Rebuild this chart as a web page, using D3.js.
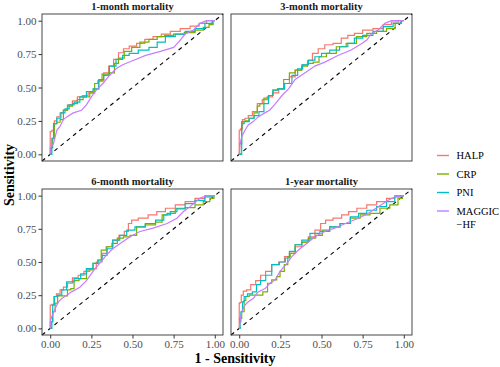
<!DOCTYPE html>
<html><head><meta charset="utf-8">
<script src="https://cdn.jsdelivr.net/npm/d3@7"></script>
<style>body{margin:0;background:#fff}svg{display:block}</style>
</head><body><svg id="c" width="500" height="367"></svg>
<script>
const panelTitles = ["1-month mortality","3-month mortality","6-month mortality","1-year mortality"];
const seriesNames = ["HALP","CRP","PNI","MAGGIC-HF"];
const seriesColors = ["#F8766D","#7CAE00","#00BFC4","#C77CFF"];
const tickValues = [0,0.25,0.5,0.75,1];

// [1 - specificity, sensitivity] pairs
const m1_HALP = [[0,0],[0,0.17],[0.02,0.18],[0.03,0.25],[0.05,0.28],[0.07,0.31],[0.09,0.33],[0.12,0.37],[0.15,0.40],[0.18,0.43],[0.21,0.44],[0.25,0.46],[0.28,0.49],[0.31,0.55],[0.34,0.61],[0.37,0.66],[0.40,0.71],[0.43,0.76],[0.46,0.79],[0.50,0.81],[0.55,0.83],[0.60,0.86],[0.65,0.88],[0.70,0.90],[0.76,0.92],[0.82,0.94],[0.88,0.96],[0.93,0.98],[0.97,1],[1,1]];
const m1_CRP = [[0,0],[0.01,0.05],[0.02,0.12],[0.03,0.23],[0.05,0.24],[0.07,0.26],[0.09,0.33],[0.12,0.36],[0.15,0.38],[0.18,0.41],[0.22,0.43],[0.26,0.46],[0.28,0.53],[0.30,0.55],[0.33,0.60],[0.38,0.61],[0.40,0.68],[0.43,0.72],[0.47,0.77],[0.52,0.80],[0.57,0.84],[0.63,0.86],[0.67,0.88],[0.72,0.89],[0.78,0.90],[0.85,0.91],[0.91,0.93],[0.95,0.95],[0.98,0.97],[1,1]];
const m1_PNI = [[0,0],[0.01,0],[0.01,0.12],[0.03,0.23],[0.05,0.27],[0.08,0.31],[0.10,0.34],[0.13,0.37],[0.16,0.39],[0.20,0.43],[0.24,0.47],[0.28,0.49],[0.31,0.56],[0.34,0.59],[0.38,0.66],[0.42,0.71],[0.46,0.74],[0.50,0.755],[0.57,0.78],[0.63,0.80],[0.67,0.84],[0.73,0.88],[0.79,0.90],[0.85,0.92],[0.91,0.94],[0.97,0.98],[1,1]];
const m1_MAGGIC = [[0,0],[0,0.05],[0.02,0.08],[0.03,0.13],[0.04,0.18],[0.06,0.21],[0.08,0.26],[0.10,0.28],[0.14,0.31],[0.19,0.33],[0.22,0.37],[0.25,0.43],[0.28,0.48],[0.32,0.53],[0.36,0.59],[0.40,0.64],[0.44,0.67],[0.50,0.70],[0.58,0.74],[0.67,0.77],[0.75,0.80],[0.78,0.84],[0.82,0.90],[0.87,0.93],[0.91,0.98],[0.95,1],[1,1]];

const m3_HALP = [[0,0],[0,0.18],[0.015,0.19],[0.025,0.26],[0.045,0.27],[0.065,0.29],[0.095,0.32],[0.125,0.38],[0.155,0.41],[0.185,0.43],[0.22,0.46],[0.26,0.49],[0.29,0.53],[0.32,0.58],[0.36,0.63],[0.40,0.67],[0.43,0.70],[0.46,0.755],[0.50,0.79],[0.54,0.82],[0.60,0.83],[0.64,0.87],[0.68,0.89],[0.72,0.905],[0.78,0.93],[0.845,0.94],[0.905,0.97],[0.945,0.99],[0.99,1],[1,1]];
const m3_CRP = [[0,0],[0.005,0.08],[0.025,0.245],[0.045,0.25],[0.075,0.27],[0.105,0.31],[0.115,0.36],[0.135,0.38],[0.165,0.42],[0.195,0.44],[0.215,0.48],[0.25,0.49],[0.29,0.56],[0.32,0.61],[0.36,0.63],[0.40,0.66],[0.43,0.68],[0.47,0.69],[0.50,0.73],[0.56,0.755],[0.62,0.805],[0.68,0.83],[0.745,0.88],[0.805,0.905],[0.865,0.92],[0.925,0.94],[0.97,0.98],[1,1]];
const m3_PNI = [[0,0],[0.015,0],[0.015,0.23],[0.045,0.245],[0.075,0.27],[0.105,0.29],[0.135,0.32],[0.165,0.38],[0.19,0.44],[0.22,0.48],[0.25,0.49],[0.30,0.53],[0.34,0.59],[0.37,0.64],[0.40,0.67],[0.44,0.705],[0.48,0.73],[0.52,0.755],[0.58,0.78],[0.64,0.805],[0.68,0.83],[0.72,0.87],[0.78,0.89],[0.845,0.92],[0.905,0.955],[0.965,0.98],[1,1]];
const m3_MAGGIC = [[0,0],[0.005,0.08],[0.015,0.13],[0.035,0.18],[0.055,0.22],[0.085,0.245],[0.115,0.28],[0.155,0.31],[0.185,0.33],[0.22,0.38],[0.26,0.44],[0.30,0.49],[0.34,0.56],[0.40,0.61],[0.46,0.66],[0.52,0.69],[0.60,0.74],[0.68,0.78],[0.745,0.83],[0.775,0.855],[0.805,0.905],[0.845,0.93],[0.885,0.98],[0.925,1],[1,1]];

const m6_HALP = [[0,0],[0,0.175],[0.02,0.18],[0.025,0.24],[0.05,0.26],[0.07,0.29],[0.09,0.31],[0.12,0.34],[0.15,0.38],[0.19,0.40],[0.22,0.43],[0.26,0.45],[0.30,0.50],[0.33,0.565],[0.36,0.615],[0.40,0.665],[0.435,0.70],[0.465,0.73],[0.485,0.79],[0.505,0.815],[0.565,0.83],[0.625,0.855],[0.67,0.88],[0.73,0.905],[0.79,0.93],[0.85,0.955],[0.91,0.98],[0.97,1],[1,1]];
const m6_CRP = [[0,0],[0.01,0.05],[0.02,0.125],[0.04,0.19],[0.05,0.245],[0.10,0.245],[0.11,0.29],[0.14,0.30],[0.15,0.36],[0.20,0.375],[0.24,0.44],[0.28,0.49],[0.30,0.515],[0.32,0.59],[0.36,0.615],[0.39,0.64],[0.425,0.68],[0.465,0.69],[0.505,0.70],[0.545,0.765],[0.61,0.78],[0.67,0.80],[0.69,0.855],[0.73,0.867],[0.79,0.90],[0.85,0.91],[0.91,0.93],[0.95,0.955],[0.99,0.98],[1,1]];
const m6_PNI = [[0,0],[0.01,0],[0.01,0.05],[0.02,0.175],[0.03,0.24],[0.06,0.25],[0.08,0.29],[0.12,0.35],[0.17,0.375],[0.20,0.41],[0.24,0.45],[0.28,0.49],[0.30,0.515],[0.33,0.55],[0.36,0.60],[0.40,0.665],[0.445,0.70],[0.485,0.74],[0.545,0.765],[0.61,0.79],[0.67,0.815],[0.71,0.855],[0.75,0.88],[0.79,0.905],[0.85,0.94],[0.91,0.965],[0.97,0.99],[1,1]];
const m6_MAGGIC = [[0,0],[0,0.05],[0.01,0.09],[0.03,0.15],[0.05,0.20],[0.07,0.225],[0.10,0.25],[0.13,0.275],[0.18,0.31],[0.22,0.36],[0.26,0.43],[0.30,0.49],[0.34,0.55],[0.38,0.60],[0.425,0.64],[0.485,0.69],[0.545,0.73],[0.625,0.755],[0.71,0.79],[0.77,0.83],[0.81,0.88],[0.85,0.917],[0.91,0.98],[0.95,1],[1,1]];

const y1_HALP = [[0,0],[0,0.19],[0.01,0.195],[0.015,0.25],[0.035,0.28],[0.055,0.29],[0.085,0.33],[0.115,0.36],[0.145,0.40],[0.175,0.43],[0.22,0.48],[0.26,0.50],[0.29,0.54],[0.32,0.565],[0.36,0.615],[0.40,0.65],[0.44,0.69],[0.48,0.74],[0.51,0.79],[0.54,0.815],[0.60,0.83],[0.645,0.855],[0.685,0.88],[0.745,0.905],[0.805,0.93],[0.865,0.955],[0.925,0.98],[0.965,1],[1,1]];
const y1_CRP = [[0,0],[0.005,0.075],[0.025,0.125],[0.035,0.21],[0.045,0.24],[0.075,0.25],[0.12,0.25],[0.167,0.275],[0.177,0.34],[0.218,0.365],[0.238,0.39],[0.258,0.43],[0.29,0.48],[0.30,0.54],[0.32,0.565],[0.36,0.63],[0.40,0.65],[0.44,0.68],[0.49,0.70],[0.52,0.74],[0.58,0.765],[0.645,0.79],[0.705,0.83],[0.765,0.855],[0.825,0.867],[0.885,0.905],[0.945,0.93],[0.985,0.98],[1,1]];
const y1_PNI = [[0,0],[0.005,0],[0.005,0.05],[0.015,0.125],[0.025,0.20],[0.035,0.24],[0.065,0.26],[0.095,0.275],[0.115,0.33],[0.145,0.36],[0.177,0.40],[0.218,0.48],[0.27,0.50],[0.29,0.53],[0.32,0.58],[0.36,0.63],[0.40,0.665],[0.46,0.715],[0.52,0.73],[0.58,0.765],[0.645,0.79],[0.705,0.84],[0.745,0.867],[0.805,0.89],[0.865,0.917],[0.925,0.955],[0.965,0.99],[1,1]];
const y1_MAGGIC = [[0,0],[0.005,0.05],[0.015,0.125],[0.035,0.175],[0.055,0.20],[0.085,0.225],[0.115,0.275],[0.157,0.30],[0.187,0.34],[0.218,0.365],[0.248,0.43],[0.29,0.49],[0.32,0.54],[0.36,0.59],[0.41,0.64],[0.46,0.69],[0.52,0.73],[0.58,0.755],[0.645,0.79],[0.725,0.83],[0.785,0.867],[0.845,0.917],[0.905,0.965],[0.945,0.99],[1,1]];

const panelData = [
  [m1_HALP, m1_CRP, m1_PNI, m1_MAGGIC],
  [m3_HALP, m3_CRP, m3_PNI, m3_MAGGIC],
  [m6_HALP, m6_CRP, m6_PNI, m6_MAGGIC],
  [y1_HALP, y1_CRP, y1_PNI, y1_MAGGIC]
];

const svg = d3.select("#c");
const FONT = "'Liberation Serif','Times New Roman',serif";
const cols = [[42,223],[231,412]];
const rows = [[14,161],[189,335]];

panelData.forEach((series, i) => {
  const c = i % 2, r = Math.floor(i / 2);
  const [x0, x1] = cols[c], [y0, y1] = rows[r];
  const xs = d3.scaleLinear().domain([-0.05,1.05]).range([x0,x1]);
  const ys = d3.scaleLinear().domain([-0.05,1.05]).range([y1,y0]);
  const g = svg.append("g");

  g.append("text").attr("x",(x0+x1)/2).attr("y",y0-4.5)
    .attr("text-anchor","middle").attr("font-family",FONT)
    .attr("font-weight","bold").attr("font-size",10.5).attr("fill","#1a1a1a")
    .text(panelTitles[i]);

  g.append("line").attr("x1",xs(-0.05)).attr("y1",ys(-0.05))
    .attr("x2",xs(1.05)).attr("y2",ys(1.05))
    .attr("stroke","#000").attr("stroke-width",1.1).attr("stroke-dasharray","4,4");

  series.forEach((pts, k) => {
    const line = d3.line().x(d=>xs(d[0])).y(d=>ys(d[1]))
      .curve(k === 3 ? d3.curveLinear : d3.curveStep);
    g.append("path").attr("d", line(pts)).attr("fill","none")
      .attr("stroke", seriesColors[k]).attr("stroke-width",1.2);
  });

  g.append("rect").attr("x",x0).attr("y",y0).attr("width",x1-x0).attr("height",y1-y0)
    .attr("fill","none").attr("stroke","#333").attr("stroke-width",0.9);

  if (c === 0) {
    const ax = g.append("g").attr("transform",`translate(${x0},0)`)
      .call(d3.axisLeft(ys).tickValues(tickValues).tickFormat(d3.format(".2f")).tickSize(3.5).tickPadding(2));
    ax.select(".domain").remove();
    ax.selectAll("line").attr("stroke","#333");
    ax.selectAll("text").attr("font-family",FONT).attr("font-size",11).attr("fill","#4d4d4d");
  }
  if (r === 1) {
    const ax = g.append("g").attr("transform",`translate(0,${y1})`)
      .call(d3.axisBottom(xs).tickValues(tickValues).tickFormat(d3.format(".2f")).tickSize(3.5).tickPadding(2));
    ax.select(".domain").remove();
    ax.selectAll("line").attr("stroke","#333");
    ax.selectAll("text").attr("font-family",FONT).attr("font-size",11).attr("fill","#4d4d4d");
  }
});

svg.append("text").attr("x",235).attr("y",363).attr("text-anchor","middle")
  .attr("font-family",FONT).attr("font-weight","bold").attr("font-size",14).text("1 - Sensitivity");
svg.append("text").attr("transform","translate(14,175) rotate(-90)").attr("text-anchor","middle")
  .attr("font-family",FONT).attr("font-weight","bold").attr("font-size",14).text("Sensitivity");

// legend
const legY = [155.5,174,192.5,211];
const lg = svg.append("g");
seriesNames.forEach((name, k) => {
  lg.append("line").attr("x1",437).attr("x2",449).attr("y1",legY[k]).attr("y2",legY[k])
    .attr("stroke",seriesColors[k]).attr("stroke-width",1.4);
  const t = lg.append("text").attr("x",456.5).attr("y",legY[k]+3.7)
    .attr("font-family",FONT).attr("font-size",10.5).attr("fill","#000");
  if (name === "MAGGIC-HF") {
    t.append("tspan").attr("x",456.5).text("MAGGIC");
    t.append("tspan").attr("x",456.5).attr("dy",13).text("\u2212HF");
  } else t.text(name);
});
</script></body></html>
